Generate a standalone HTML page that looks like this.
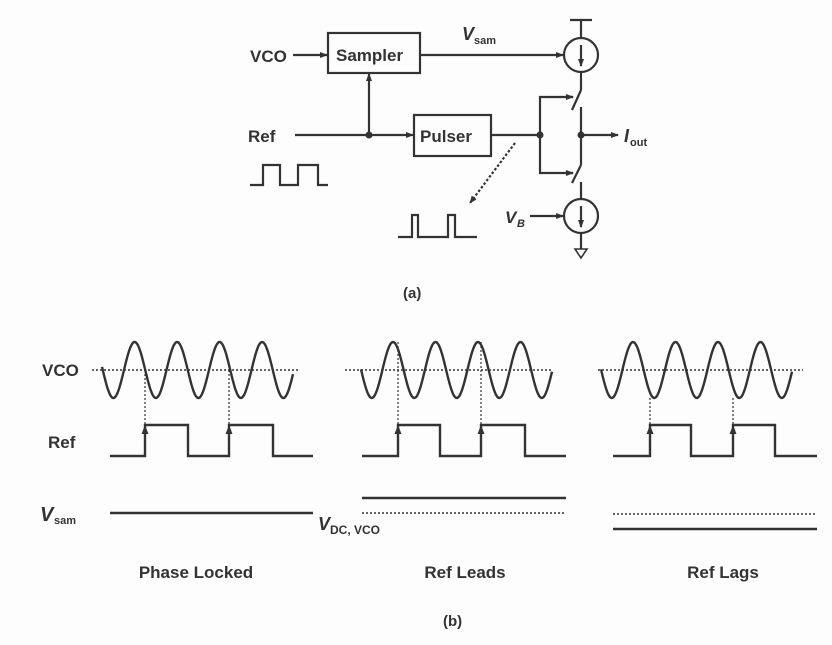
<!DOCTYPE html>
<html><head><meta charset="utf-8"><style>
html,body{margin:0;padding:0;background:#fff;}
svg{display:block;}
text{font-family:"Liberation Sans",Arial,sans-serif;font-weight:bold;fill:#333;}
</style></head><body>
<svg id="s" width="832" height="645" viewBox="0 0 832 645" xmlns="http://www.w3.org/2000/svg">
<defs>
<marker id="a" markerWidth="8" markerHeight="8" refX="7" refY="4" orient="auto" markerUnits="userSpaceOnUse"><path d="M0,1 L8,4 L0,7 Z" fill="#333"/></marker>
</defs>
<rect width="832" height="645" fill="#fdfdfd"/>
<g stroke="#333" stroke-width="2.2" fill="none">
<!-- top circuit -->
<line x1="293" y1="55" x2="327" y2="55" marker-end="url(#a)"/>
<rect x="328" y="33" width="92" height="40"/>
<line x1="420" y1="55" x2="563" y2="55" marker-end="url(#a)"/>
<circle cx="581" cy="55" r="17"/>
<line x1="581" y1="20" x2="581" y2="38"/>
<line x1="570" y1="20" x2="592" y2="20"/>
<line x1="581" y1="45" x2="581" y2="66" marker-end="url(#a)"/>
<line x1="581" y1="72" x2="581" y2="90"/>
<line x1="581" y1="90" x2="572" y2="110"/>
<line x1="581" y1="107" x2="581" y2="165"/>
<line x1="581" y1="165" x2="572" y2="183"/>
<line x1="581" y1="182" x2="581" y2="200"/>
<circle cx="581" cy="216" r="17"/>
<line x1="581" y1="206" x2="581" y2="227" marker-end="url(#a)"/>
<line x1="581" y1="233" x2="581" y2="249"/>
<path d="M575,249 L587,249 L581,258 Z" stroke-width="1.6"/>
<line x1="530" y1="216" x2="563" y2="216" marker-end="url(#a)"/>
<line x1="581" y1="135" x2="618" y2="135" marker-end="url(#a)"/>
<line x1="295" y1="135" x2="413" y2="135" marker-end="url(#a)"/>
<line x1="369" y1="135" x2="369" y2="74" marker-end="url(#a)"/>
<rect x="414" y="115" width="77" height="41"/>
<line x1="491" y1="135" x2="540" y2="135"/>
<polyline points="573,97 540,97 540,173 573,173" />
<line x1="565" y1="97" x2="573" y2="97" marker-end="url(#a)"/>
<line x1="565" y1="173" x2="573" y2="173" marker-end="url(#a)"/>
<line x1="515" y1="143" x2="470" y2="203" stroke-dasharray="2.5,2" marker-end="url(#a)"/>
<polyline points="250,185 263,185 263,165 280,165 280,185 298,185 298,165 318,165 318,185 328,185"/>
<polyline points="398,237 412,237 412,215 418,215 418,237 448,237 448,215 455,215 455,237 477,237"/>
</g>
<g fill="#333"><circle cx="369" cy="135" r="3.5"/><circle cx="540" cy="135" r="3.5"/><circle cx="581" cy="135" r="3.5"/></g>
<text x="250" y="62" font-size="17">VCO</text>
<text x="336" y="61" font-size="17">Sampler</text>
<text x="248" y="142" font-size="17">Ref</text>
<text x="420" y="142" font-size="17">Pulser</text>
<text x="462" y="40" font-size="18" font-style="italic">V</text><text x="474" y="44" font-size="11">sam</text>
<text x="505" y="223" font-size="17" font-style="italic">V</text><text x="517" y="227" font-size="11" font-style="italic">B</text>
<text x="624" y="142" font-size="18" font-style="italic">I</text><text x="630" y="146" font-size="11">out</text>
<text x="403" y="298" font-size="15">(a)</text>
<g id="bot" stroke="#333" fill="none"></g>
<text x="42" y="376" font-size="17">VCO</text>
<text x="48" y="448" font-size="17">Ref</text>
<text x="40" y="521" font-size="20" font-style="italic">V</text><text x="54" y="524" font-size="11">sam</text>
<text x="318" y="530" font-size="18" font-style="italic">V</text><text x="330" y="534" font-size="12">DC, VCO</text>
<text x="196" y="578" font-size="17" text-anchor="middle">Phase Locked</text>
<text x="465" y="578" font-size="17" text-anchor="middle">Ref Leads</text>
<text x="723" y="578" font-size="17" text-anchor="middle">Ref Lags</text>
<text x="443" y="626" font-size="15">(b)</text>
</svg>
<script>
var g=document.getElementById('bot'),NS='http://www.w3.org/2000/svg';
function el(t,a){var e=document.createElementNS(NS,t);for(var k in a)e.setAttribute(k,a[k]);g.appendChild(e);return e;}
var panels=[{o:0,x0:124,xs:102,xe:293,dx:[145,229],dy:370,ds:92,de:300},
{o:252,x0:382.4,xs:361,xe:552,dx:[398,481],dy:342,ds:345,de:552},
{o:503,x0:622.4,xs:601,xe:792,dx:[650,733],dy:398,ds:598,de:803}];
panels.forEach(function(p,i){
 el('line',{x1:p.ds,y1:370,x2:p.de,y2:370,'stroke-width':1.5,'stroke-dasharray':'2,2'});
 var pts=[];for(var x=p.xs;x<=p.xe;x+=1)pts.push(x+','+(370-28*Math.sin(2*Math.PI*(x-p.x0)/42.5)).toFixed(1));
 el('polyline',{points:pts.join(' '),'stroke-width':2.4});
 var r=[110+p.o,145+p.o,188+p.o,229+p.o,273+p.o,313+p.o];
 if(i==2){r=[613,650,691,733,775,817];}
 if(i==1){r=[362,398,440,481,525,566];}
 el('polyline',{points:r[0]+',456 '+r[1]+',456 '+r[1]+',425 '+r[2]+',425 '+r[2]+',456 '+r[3]+',456 '+r[3]+',425 '+r[4]+',425 '+r[4]+',456 '+r[5]+',456','stroke-width':2.4});
 [r[1],r[3]].forEach(function(x){
  el('line',{x1:x,y1:p.dy,x2:x,y2:428,'stroke-width':1.2,'stroke-dasharray':'2,2'});
  el('path',{d:'M'+(x-3.5)+',434 L'+x+',425 L'+(x+3.5)+',434 Z',fill:'#333','stroke-width':0});
 });
 if(i==0)el('line',{x1:110,y1:513,x2:313,y2:513,'stroke-width':2.4});
 if(i==1){el('line',{x1:362,y1:498,x2:566,y2:498,'stroke-width':2.4});el('line',{x1:362,y1:513,x2:566,y2:513,'stroke-width':1.6,'stroke-dasharray':'2,2'});}
 if(i==2){el('line',{x1:613,y1:514,x2:817,y2:514,'stroke-width':1.6,'stroke-dasharray':'2,2'});el('line',{x1:613,y1:529,x2:817,y2:529,'stroke-width':2.4});}
});
</script>
</body></html>
